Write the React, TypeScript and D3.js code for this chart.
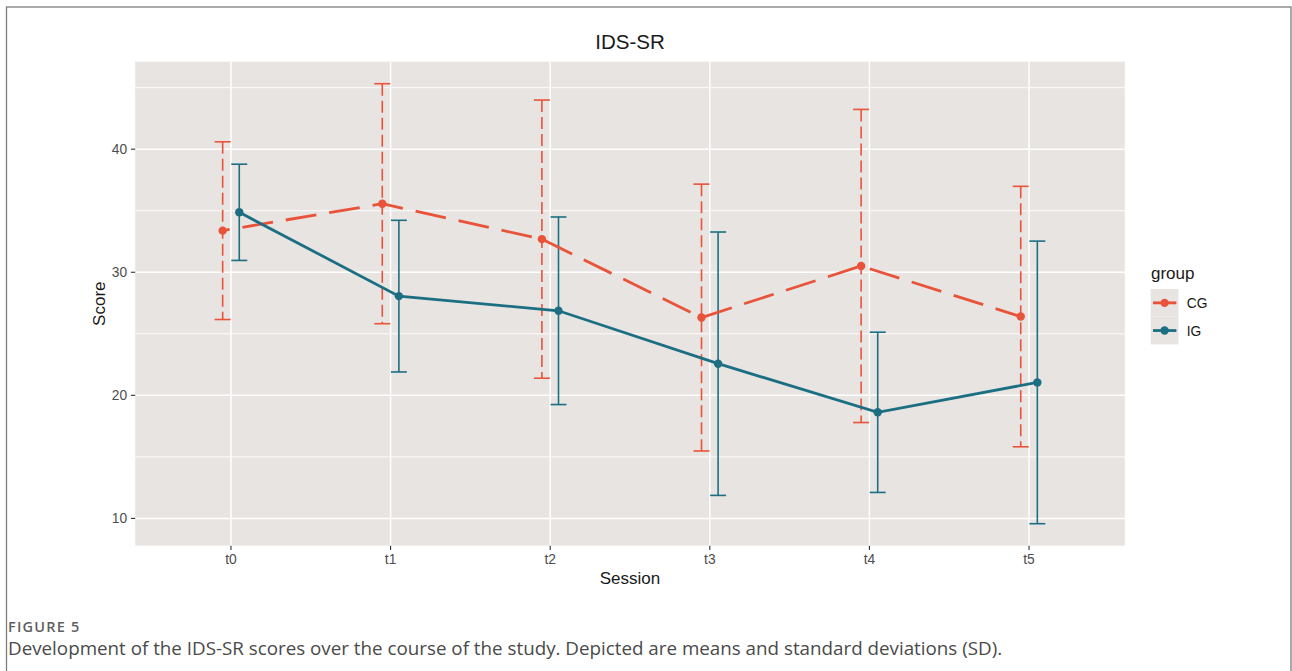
import * as d3 from "d3";

const sessions = ["t0", "t1", "t2", "t3", "t4", "t5"];
const groups = ["CG", "IG"];
const cgMean = [33.38, 35.57, 32.69, 26.32, 30.51, 26.4];
const cgSd = [7.22, 9.75, 11.3, 10.84, 12.72, 10.58];
const igMean = [34.87, 28.06, 26.87, 22.57, 18.62, 21.05];
const igSd = [3.91, 6.16, 7.62, 10.7, 6.51, 11.48];
const yTicks = [10, 20, 30, 40];
const yMinor = [15, 25, 35, 45];

const colors = { CG: "#E8533A", IG: "#1C6F83" };
const FONT = "'Liberation Sans', Arial, Helvetica, sans-serif";

export default function App() {
  const width = 1292;
  const height = 671;
  const panel = { left: 135.2, right: 1124.8, top: 61.7, bottom: 545.7 };

  const series = groups.map((g) => {
    const means = g === "CG" ? cgMean : igMean;
    const sds = g === "CG" ? cgSd : igSd;
    return {
      group: g,
      values: sessions.map((s, i) => ({ session: s, mean: means[i], sd: sds[i] })),
    };
  });

  const all = series.flatMap((s) => s.values);
  const lo = d3.min(all, (d) => d.mean - d.sd) as number;
  const hi = d3.max(all, (d) => d.mean + d.sd) as number;
  const pad = (hi - lo) * 0.05;

  const x = d3
    .scalePoint()
    .domain(sessions)
    .range([panel.left, panel.right])
    .padding(0.6);
  const step = x.step();
  const dodge = (g: string) => (g === "CG" ? -0.052 : 0.052) * step;
  const capHalf = 0.05 * step;

  const y = d3
    .scaleLinear()
    .domain([lo - pad, hi + pad])
    .range([panel.bottom, panel.top]);

  const cx = (panel.left + panel.right) / 2;

  return (
    <div style={{ position: "absolute", left: 0, top: 0 }}>
      <svg width={width} height={height} style={{ display: "block", background: "#fff" }}>
        <rect x={6.5} y={7} width={1284.5} height={720} fill="none" stroke="#7d7d7d" strokeWidth={1.3} />

        <text x={cx} y={49} textAnchor="middle" fontFamily={FONT} fontSize={20.5} fill="#1a1a1a">
          IDS-SR
        </text>

        {/* panel */}
        <rect
          x={panel.left}
          y={panel.top}
          width={panel.right - panel.left}
          height={panel.bottom - panel.top}
          fill="#E8E4E1"
        />
        {yMinor.map((t) => (
          <line key={"mn" + t} x1={panel.left} x2={panel.right} y1={y(t)} y2={y(t)} stroke="#fff" strokeWidth={0.9} />
        ))}
        {yTicks.map((t) => (
          <line key={"mj" + t} x1={panel.left} x2={panel.right} y1={y(t)} y2={y(t)} stroke="#fff" strokeWidth={1.5} />
        ))}
        {sessions.map((s) => (
          <line key={"v" + s} x1={x(s)} x2={x(s)} y1={panel.top} y2={panel.bottom} stroke="#fff" strokeWidth={1.5} />
        ))}

        {/* error bars */}
        {series.map((s) =>
          s.values.map((d) => {
            const px = x(d.session)! + dodge(s.group);
            const top = y(d.mean + d.sd);
            const bot = y(d.mean - d.sd);
            const c = colors[s.group as "CG" | "IG"];
            return (
              <g key={s.group + d.session} stroke={c} strokeWidth={1.6} fill="none">
                <line x1={px - capHalf} x2={px + capHalf} y1={top} y2={top} />
                <line
                  x1={px}
                  x2={px}
                  y1={top}
                  y2={bot}
                  strokeDasharray={s.group === "CG" ? "12 5" : undefined}
                />
                <line x1={px - capHalf} x2={px + capHalf} y1={bot} y2={bot} />
              </g>
            );
          })
        )}

        {/* lines */}
        {series.map((s) => (
          <path
            key={"l" + s.group}
            d={
              d3
                .line<{ session: string; mean: number }>()
                .x((d) => x(d.session)! + dodge(s.group))
                .y((d) => y(d.mean))(s.values) as string
            }
            fill="none"
            stroke={colors[s.group as "CG" | "IG"]}
            strokeWidth={2.8}
            strokeDasharray={s.group === "CG" ? "31 13" : undefined}
            strokeDashoffset={s.group === "CG" ? -20 : undefined}
          />
        ))}

        {/* points */}
        {series.map((s) =>
          s.values.map((d) => (
            <circle
              key={"p" + s.group + d.session}
              cx={x(d.session)! + dodge(s.group)}
              cy={y(d.mean)}
              r={4.2}
              fill={colors[s.group as "CG" | "IG"]}
            />
          ))
        )}

        {/* y axis */}
        {yTicks.map((t) => (
          <g key={"yt" + t}>
            <line x1={panel.left - 4.3} x2={panel.left} y1={y(t)} y2={y(t)} stroke="#333" strokeWidth={1.1} />
            <text
              x={panel.left - 8}
              y={y(t)}
              dy="0.36em"
              textAnchor="end"
              fontFamily={FONT}
              fontSize={13.8}
              fill="#4d4d4d"
            >
              {t}
            </text>
          </g>
        ))}
        <text
          transform={`translate(105,${(panel.top + panel.bottom) / 2}) rotate(-90)`}
          textAnchor="middle"
          fontFamily={FONT}
          fontSize={17}
          fill="#1a1a1a"
        >
          Score
        </text>

        {/* x axis */}
        {sessions.map((s) => (
          <g key={"xt" + s}>
            <line x1={x(s)} x2={x(s)} y1={panel.bottom} y2={panel.bottom + 4.3} stroke="#333" strokeWidth={1.1} />
            <text x={x(s)} y={564} textAnchor="middle" fontFamily={FONT} fontSize={13.8} fill="#4d4d4d">
              {s}
            </text>
          </g>
        ))}
        <text x={cx} y={584} textAnchor="middle" fontFamily={FONT} fontSize={17} fill="#1a1a1a">
          Session
        </text>

        {/* legend */}
        <text x={1151} y={279} fontFamily={FONT} fontSize={17} fill="#1a1a1a">
          group
        </text>
        {groups.map((g, i) => {
          const ky = 289 + i * 27.7;
          const c = colors[g as "CG" | "IG"];
          return (
            <g key={"lg" + g}>
              <rect x={1150.7} y={ky} width={27.7} height={27.7} fill="#E8E4E1" />
              <line x1={1153} x2={1176.4} y1={ky + 13.85} y2={ky + 13.85} stroke={c} strokeWidth={2.8} />
              <circle cx={1164.6} cy={ky + 13.85} r={4.2} fill={c} />
              <text x={1186.7} y={ky + 13.85} dy="0.36em" fontFamily={FONT} fontSize={13.8} fill="#1a1a1a">
                {g}
              </text>
            </g>
          );
        })}

        {/* caption */}
        <text
          x={8}
          y={632}
          fontFamily="'Open Sans', sans-serif"
          fontSize={14.5}
          fontWeight={600}
          letterSpacing={1.2}
          fill="#5f5f5f"
        >
          FIGURE 5
        </text>
        <text x={8} y={655} fontFamily="'Open Sans', sans-serif" fontSize={18.8} fill="#4a4a4a">
          Development of the IDS-SR scores over the course of the study. Depicted are means and standard deviations (SD).
        </text>
      </svg>
    </div>
  );
}
